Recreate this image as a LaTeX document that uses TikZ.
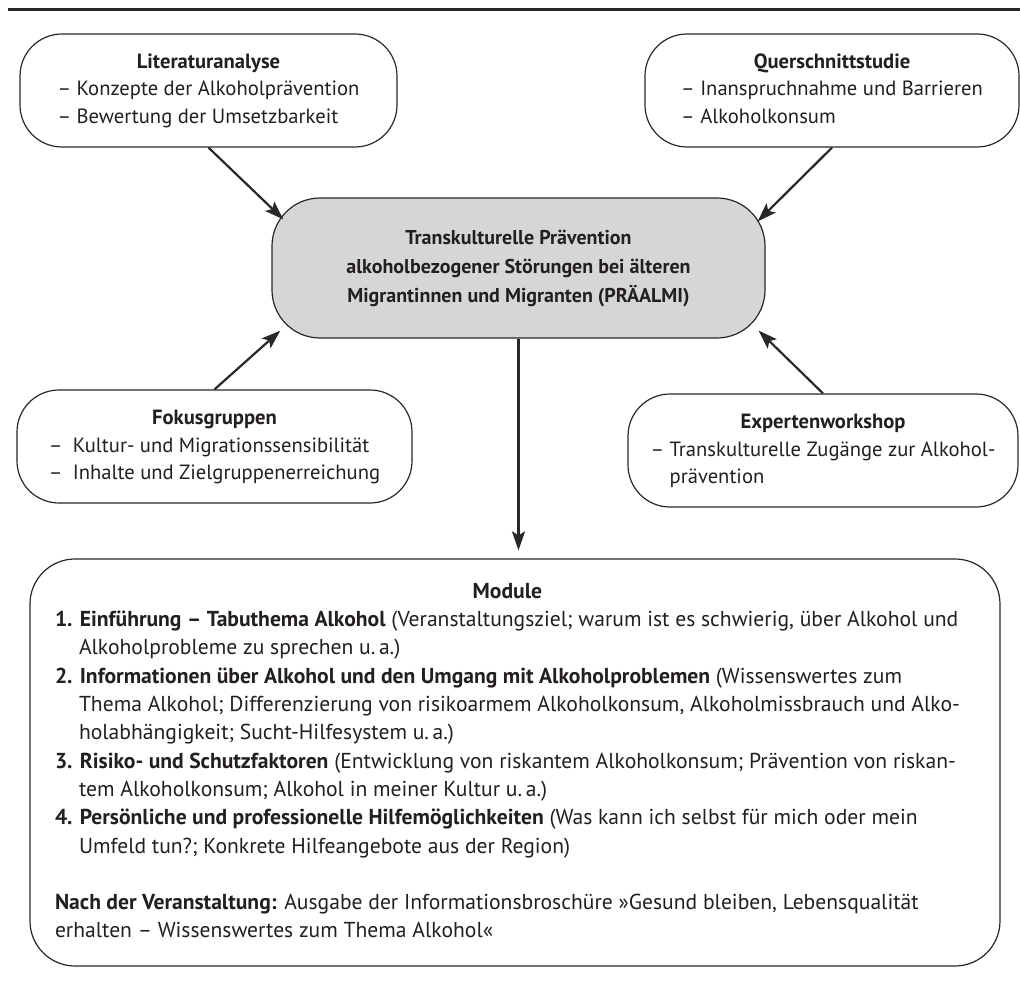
\documentclass[tikz,border=0pt]{standalone}
\usepackage{fontspec}
\setmainfont{PT Sans}
\usetikzlibrary{arrows.meta,calc}
\definecolor{ink}{RGB}{35,31,32}
\definecolor{linec}{RGB}{40,40,40}
\definecolor{mainfill}{RGB}{214,214,214}
\newcommand\diafont{\fontsize{20.6pt}{27.5pt}\selectfont}
\newcommand\modfont{\fontsize{21.6pt}{28.3pt}\selectfont}
\newcommand\ind{\hspace*{24pt}}
\begin{document}
\begin{tikzpicture}[x=1pt,y=-1pt,
  box/.style={draw=linec, line width=1.2pt, rounded corners=42pt, inner sep=0pt,
    text=ink, font=\diafont, fill=white},
  arr/.style={draw=linec, line width=2.2pt, -{Stealth[length=19pt,width=13pt,inset=4pt]}},
]
\useasboundingbox (0,0) rectangle (1020,987);
\draw[line width=3pt, linec] (8,9.5) -- (1020,9.5);

\node[box, minimum width=377pt, minimum height=113pt] (lit) at (208.5,90.5)
  {\begin{tabular}{@{}l@{}}\multicolumn{1}{@{}c@{}}{\bfseries Literaturanalyse}\\
   – Konzepte der Alkoholprävention\\
   – Bewertung der Umsetzbarkeit\end{tabular}};

\node[box, minimum width=374pt, minimum height=113pt] (quer) at (832,90.5)
  {\begin{tabular}{@{}l@{}}\multicolumn{1}{@{}c@{}}{\bfseries Querschnittstudie}\\
   – Inanspruchnahme und Barrieren\\
   – Alkoholkonsum\end{tabular}};

\node[box, fill=mainfill, rounded corners=48pt, minimum width=493pt, minimum height=140pt,
  font=\fontsize{20pt}{29pt}\selectfont\bfseries] (main) at (518.5,268)
  {\begin{tabular}{@{}c@{}}Transkulturelle Prävention\\
   alkoholbezogener Störungen bei älteren\\
   Migrantinnen und Migranten (PRÄALMI)\end{tabular}};

\node[box, minimum width=395pt, minimum height=113pt] (fokus) at (214.5,446.5)
  {\begin{tabular}{@{}l@{}}\multicolumn{1}{@{}c@{}}{\bfseries Fokusgruppen}\\
   –\enspace Kultur- und Migrationssensibilität\\
   –\enspace Inhalte und Zielgruppenerreichung\end{tabular}};

\node[box, minimum width=390pt, minimum height=113pt] (expert) at (823,450.5)
  {\begin{tabular}{@{}l@{}}\multicolumn{1}{@{}c@{}}{\bfseries Expertenworkshop}\\
   – Transkulturelle Zugänge zur Alkohol-\\
   \phantom{– }prävention\end{tabular}};

\node[box, rounded corners=45pt, minimum width=970pt, minimum height=407pt, font=\modfont]
  (mod) at (515,762.5)
  {\makebox[920pt][l]{\begin{tabular}{@{}l@{}}
   \multicolumn{1}{@{}c@{}}{\bfseries Module}\\
   \textbf{1. Einführung – Tabuthema Alkohol} (Veranstaltungsziel; warum ist es schwierig, über Alkohol und\\
   \ind Alkoholprobleme zu sprechen u.\,a.)\\
   \textbf{2. Informationen über Alkohol und den Umgang mit Alkoholproblemen} (Wissenswertes zum\\
   \ind Thema Alkohol; Differenzierung von risikoarmem Alkoholkonsum, Alkoholmissbrauch und Alko-\\
   \ind holabhängigkeit; Sucht-Hilfesystem u.\,a.)\\
   \textbf{3. Risiko- und Schutzfaktoren} (Entwicklung von riskantem Alkoholkonsum; Prävention von riskan-\\
   \ind tem Alkoholkonsum; Alkohol in meiner Kultur u.\,a.)\\
   \textbf{4. Persönliche und professionelle Hilfemöglichkeiten} (Was kann ich selbst für mich oder mein\\
   \ind Umfeld tun?; Konkrete Hilfeangebote aus der Region)\\
   \\
   \textbf{Nach der Veranstaltung:} Ausgabe der Informationsbroschüre »Gesund bleiben, Lebensqualität\\
   erhalten – Wissenswertes zum Thema Alkohol«
  \end{tabular}}};

\draw[arr] (lit.south) -- ($(main.north west)+(12,22)$);
\draw[arr] (quer.south) -- ($(main.north east)+(-8,24)$);
\draw[arr] (fokus.north) -- ($(main.south west)+(9,-8)$);
\draw[arr] (expert.north) -- ($(main.south east)+(-7,-8)$);
\draw[arr, shorten >=8pt] (main.south) -- (main.south |- mod.north);
\end{tikzpicture}
\end{document}
